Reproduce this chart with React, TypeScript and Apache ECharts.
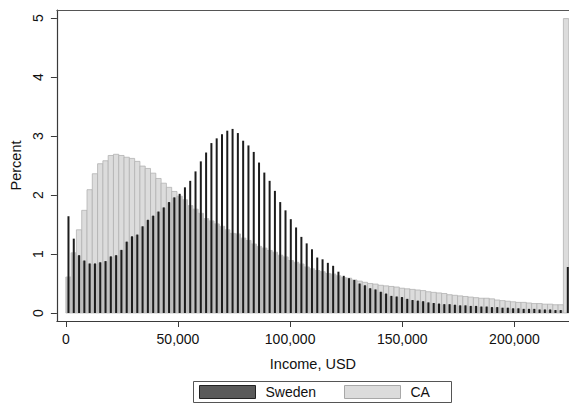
import React, { useEffect, useRef } from "react";
import * as echarts from "echarts";

// Histogram bins (USD), percent of population per bin
const BIN_WIDTH = 2360;

const caPercent = [
  0.61, 1.02, 1.41, 1.74, 2.09, 2.36, 2.53, 2.58, 2.67, 2.69,
  2.67, 2.64, 2.62, 2.57, 2.49, 2.45, 2.37, 2.28, 2.2, 2.13,
  2.06, 1.98, 1.92, 1.82, 1.76, 1.69, 1.6, 1.56, 1.51, 1.47,
  1.41, 1.35, 1.34, 1.27, 1.23, 1.17, 1.13, 1.1, 1.06, 1.03,
  0.98, 0.95, 0.89, 0.86, 0.83, 0.78, 0.75, 0.72, 0.7, 0.67,
  0.66, 0.63, 0.6, 0.59, 0.56, 0.54, 0.52, 0.5, 0.49, 0.47,
  0.46, 0.45, 0.44, 0.42, 0.41, 0.4, 0.39, 0.38, 0.36, 0.35,
  0.34, 0.33, 0.31, 0.3, 0.29, 0.28, 0.27, 0.26, 0.25, 0.25,
  0.24, 0.22, 0.21, 0.2, 0.19, 0.18, 0.18, 0.17, 0.16, 0.16,
  0.15, 0.15, 0.14, 0.14, 4.99,
];

const swedenPercent = [
  1.64, 1.26, 0.98, 0.89, 0.84, 0.84, 0.86, 0.88, 0.96, 0.98,
  1.07, 1.21, 1.3, 1.33, 1.47, 1.58, 1.65, 1.72, 1.79, 1.88,
  1.96, 2.02, 2.13, 2.24, 2.4, 2.57, 2.72, 2.88, 2.96, 3.03,
  3.09, 3.12, 3.05, 2.92, 2.84, 2.73, 2.55, 2.38, 2.24, 2.07,
  1.88, 1.74, 1.59, 1.45, 1.29, 1.18, 1.08, 0.94, 0.91, 0.85,
  0.8, 0.7, 0.63, 0.59, 0.56, 0.5, 0.47, 0.42, 0.4, 0.36,
  0.33, 0.29, 0.28, 0.27, 0.24, 0.22, 0.21, 0.2, 0.18, 0.17,
  0.16, 0.15, 0.15, 0.14, 0.13, 0.13, 0.12, 0.12, 0.11, 0.11,
  0.1, 0.1, 0.09, 0.09, 0.08, 0.08, 0.07, 0.07, 0.07, 0.06,
  0.06, 0.06, 0.05, 0.05, 0.78,
];

// Sweden's top-coded bin sits slightly to the right of CA's
const swedenTopcodeIncome = 223800;

const xTickValues = [0, 50000, 100000, 150000, 200000];
const yTickValues = [0, 1, 2, 3, 4, 5];

const legendNames = ["Sweden", "CA"];

const X_MIN = -3982;
const X_MAX = 224337;
const Y_MIN = -0.1356;
const Y_MAX = 5.1356;

const CA_FILL = "#dcdcdc";
const CA_STROKE = "#b3b3b3";
const OVERLAP_FILL = "#bcbcbc";
const SWEDEN_FILL = "#1c1c1c";
const FONT = "'Liberation Sans', Arial, Helvetica, sans-serif";

const caData = caPercent.map((v, i) => [i * BIN_WIDTH, (i + 1) * BIN_WIDTH, v]);
const overlapData = caPercent
  .slice(0, caPercent.length - 1)
  .map((v, i) => [i * BIN_WIDTH, (i + 1) * BIN_WIDTH, Math.min(v, swedenPercent[i])]);
const swedenData = swedenPercent.map((v, i) => [
  i === swedenPercent.length - 1 ? swedenTopcodeIncome : (i + 0.5) * BIN_WIDTH,
  v,
]);

function binRenderer(fill: string, stroke: string | null, lineWidth: number, inset: number) {
  return (params: any, api: any) => {
    const p0 = api.coord([api.value(0), api.value(2)]);
    const p1 = api.coord([api.value(1), 0]);
    return {
      type: "rect",
      shape: {
        x: p0[0] + inset,
        y: p0[1] + inset,
        width: Math.max(0, p1[0] - p0[0] - 2 * inset),
        height: Math.max(0, p1[1] - p0[1] - inset),
      },
      style: { fill, stroke: stroke || undefined, lineWidth },
    };
  };
}

function swedenRenderer(params: any, api: any) {
  const top = api.coord([api.value(0), api.value(1)]);
  const base = api.coord([api.value(0), 0]);
  const w = 2;
  return {
    type: "rect",
    shape: { x: top[0] - w / 2, y: top[1], width: w, height: base[1] - top[1] },
    style: { fill: SWEDEN_FILL },
  };
}

export default function App() {
  const ref = useRef<HTMLDivElement>(null);

  useEffect(() => {
    if (!ref.current) return;
    document.body.style.margin = "0";
    document.body.style.overflow = "hidden";
    const chart = echarts.init(ref.current, null, { renderer: "svg" });
    const axisColor = "#3a3a3a";
    chart.setOption({
      animation: false,
      backgroundColor: "#ffffff",
      textStyle: { fontFamily: FONT },
      grid: { left: 53, right: 0, top: 10, bottom: 88, containLabel: false },
      xAxis: [
        {
          type: "value",
          min: X_MIN,
          max: X_MAX,
          splitLine: { show: false },
          axisLine: { show: true, onZero: false, lineStyle: { color: axisColor, width: 1.2 } },
          axisTick: {
            show: true,
            length: 6,
            customValues: xTickValues,
            lineStyle: { color: axisColor, width: 1 },
          },
          axisLabel: {
            show: true,
            customValues: xTickValues,
            margin: 11,
            fontSize: 14,
            color: "#111",
            fontFamily: FONT,
            formatter: (v: number) => v.toLocaleString("en-US"),
          },
          name: "Income, USD",
          nameLocation: "middle",
          nameGap: 35,
          nameTextStyle: { fontSize: 14.5, color: "#111", fontFamily: FONT },
        },
        {
          type: "value",
          position: "top",
          min: X_MIN,
          max: X_MAX,
          splitLine: { show: false },
          axisLine: { show: true, onZero: false, lineStyle: { color: "#555", width: 1.2 } },
          axisTick: { show: false },
          axisLabel: { show: false },
        },
      ],
      yAxis: {
        type: "value",
        min: Y_MIN,
        max: Y_MAX,
        splitLine: { show: false },
        axisLine: { show: true, onZero: false, lineStyle: { color: axisColor, width: 1.2 } },
        axisTick: {
          show: true,
          length: 6,
          customValues: yTickValues,
          lineStyle: { color: axisColor, width: 1 },
        },
        axisLabel: {
          show: true,
          customValues: yTickValues,
          rotate: 90,
          margin: 12,
          fontSize: 14,
          color: "#111",
          fontFamily: FONT,
        },
        name: "Percent",
        nameLocation: "middle",
        nameGap: 22,
        nameTextStyle: { fontSize: 14.5, color: "#111", fontFamily: FONT },
      },
      series: [
        {
          type: "custom",
          name: "CA",
          xAxisIndex: 0,
          clip: false,
          renderItem: binRenderer(CA_FILL, CA_STROKE, 0.8, 0),
          encode: { x: [0, 1], y: 2 },
          data: caData,
          silent: true,
        },
        {
          type: "custom",
          name: "overlap",
          xAxisIndex: 0,
          clip: false,
          renderItem: binRenderer(OVERLAP_FILL, null, 0, 0.4),
          encode: { x: [0, 1], y: 2 },
          data: overlapData,
          silent: true,
        },
        {
          type: "custom",
          name: "Sweden",
          xAxisIndex: 0,
          clip: false,
          renderItem: swedenRenderer,
          encode: { x: 0, y: 1 },
          data: swedenData,
          silent: true,
        },
      ],
      graphic: [
        {
          type: "group",
          left: 193,
          top: 381,
          children: [
            {
              type: "rect",
              shape: { x: 0, y: 0, width: 258, height: 21 },
              style: { fill: "#fff", stroke: "#555", lineWidth: 1 },
            },
            {
              type: "rect",
              shape: { x: 6, y: 4, width: 56, height: 13 },
              style: { fill: "#5a5a5a", stroke: "#222", lineWidth: 1 },
            },
            {
              type: "text",
              x: 72,
              y: 10.5,
              style: {
                text: legendNames[0],
                fontSize: 14,
                fontFamily: FONT,
                fill: "#111",
                verticalAlign: "middle",
              },
            },
            {
              type: "rect",
              shape: { x: 151, y: 4, width: 56, height: 13 },
              style: { fill: CA_FILL, stroke: "#a8a8a8", lineWidth: 1 },
            },
            {
              type: "text",
              x: 217,
              y: 10.5,
              style: {
                text: legendNames[1],
                fontSize: 14,
                fontFamily: FONT,
                fill: "#111",
                verticalAlign: "middle",
              },
            },
          ],
        },
      ],
    });
    return () => chart.dispose();
  }, []);

  return (
    <div
      ref={ref}
      style={{ position: "fixed", left: 0, top: 0, width: 569, height: 409 }}
    />
  );
}
